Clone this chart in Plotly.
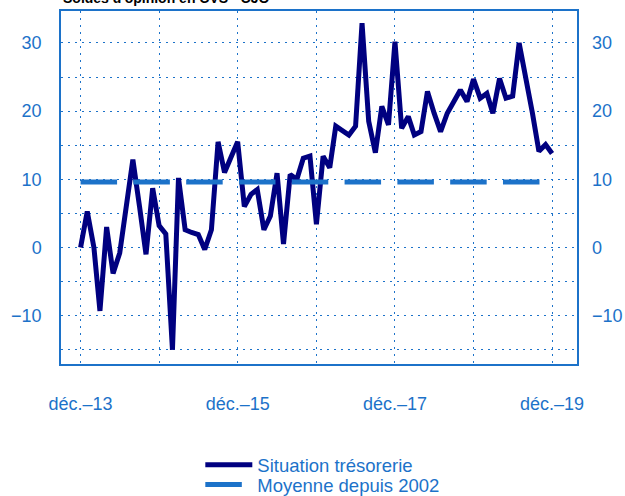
import pandas as pd
import plotly.graph_objects as go

# ---- data ----
months = pd.date_range("2013-12-01", "2019-12-01", freq="MS").strftime("%Y-%m-%d").tolist()
situation_tresorerie = [
    0.0, 5.3, 0.0, -9.3, 3.0, -3.8, -0.8, 6.5, 12.9, 6.0,
    -1.0, 8.7, 3.2, 2.0, -15.0, 10.2, 2.6, 2.2, 1.9, -0.3,
    2.6, 15.5, 11.0, 13.3, 15.5, 6.0, 7.8, 8.5, 2.6, 4.6,
    10.9, 0.5, 10.7, 10.0, 13.1, 13.4, 3.4, 13.4, 11.7, 17.8,
    17.2, 16.5, 17.8, 32.9, 18.5, 13.9, 20.7, 18.0, 30.2, 17.5,
    19.2, 16.5, 17.0, 22.9, 19.7, 17.0, 19.7, 21.4, 23.1, 21.4,
    24.7, 21.9, 22.6, 19.7, 24.8, 21.9, 22.2, 30.0, 25.0, 19.7,
    14.1, 15.1, 13.8,
]
moyenne_depuis_2002 = [9.6] * len(months)

x_tick_vals = ["2013-12-01", "2014-12-01", "2015-12-01", "2016-12-01",
               "2017-12-01", "2018-12-01", "2019-12-01"]
x_tick_text = ["déc.–13", "", "déc.–15", "", "déc.–17", "", "déc.–19"]
y_tick_vals = [-15, -10, -5, 0, 5, 10, 15, 20, 25, 30]
y_tick_text = ["", "−10", "", "0", "", "10", "", "20", "", "30"]

title_text = "Soldes d'opinion en CVS - CJO"

# ---- style ----
BLUE = "#1c72c9"
NAVY = "#000080"
FONT = "Liberation Sans, Arial, sans-serif"

fig = go.Figure()
fig.add_trace(go.Scatter(
    x=months, y=situation_tresorerie, mode="lines", name="Situation trésorerie",
    line=dict(color=NAVY, width=5), yaxis="y", legend="legend",
))
fig.add_trace(go.Scatter(
    x=months, y=moyenne_depuis_2002, mode="lines", name="Moyenne depuis 2002",
    line=dict(color=BLUE, width=5, dash="36.5px,16.3px"), yaxis="y", legend="legend2",
))
# same series on the mirrored right axis (invisible) so the right axis is drawn
fig.add_trace(go.Scatter(
    x=months, y=moyenne_depuis_2002, mode="lines", showlegend=False,
    line=dict(color="rgba(0,0,0,0)", width=0), yaxis="y2", hoverinfo="skip",
))

grid = dict(showgrid=True, gridcolor=BLUE, gridwidth=1.2, griddash="2px,5px")
yrange = [-17.09, 34.69]

leg_common = dict(
    xanchor="left", yanchor="middle", font=dict(size=18.5, color=BLUE),
    bgcolor="rgba(0,0,0,0)", itemwidth=47,
)

fig.update_layout(
    width=625, height=496,
    margin=dict(l=61, r=48, t=11, b=132, autoexpand=False),
    plot_bgcolor="white", paper_bgcolor="white",
    font=dict(family=FONT, size=18, color=BLUE),
    xaxis=dict(
        type="date", range=["2013-09-01", "2020-03-26"],
        tickvals=x_tick_vals, ticktext=x_tick_text, ticks="",
        showline=True, linecolor=BLUE, linewidth=1.5, mirror=True,
        zeroline=False, ticklabelstandoff=23, automargin=False, **grid,
    ),
    yaxis=dict(
        range=yrange, tickvals=y_tick_vals, ticktext=y_tick_text, ticks="",
        showline=True, linecolor=BLUE, linewidth=1.5, mirror=True,
        zeroline=False, ticklabelstandoff=14, automargin=False, **grid,
    ),
    yaxis2=dict(
        range=yrange, tickvals=y_tick_vals, ticktext=y_tick_text, ticks="",
        overlaying="y", side="right", showgrid=False, zeroline=False,
        showline=False, ticklabelstandoff=14, automargin=False,
    ),
    showlegend=True,
    legend=dict(x=0.27, y=-0.287, **leg_common),
    legend2=dict(x=0.27, y=-0.343, **leg_common),
    annotations=[dict(
        text="<b>" + title_text + "</b>", xref="paper", yref="paper",
        x=0, y=1.008, xanchor="left", yanchor="bottom", showarrow=False,
        font=dict(size=14, color="black", family=FONT),
    )],
)

fig.write_html(
    "out.html",
    config={"displayModeBar": False},
    post_script="document.body.style.margin='0';document.body.style.overflow='hidden';",
)
